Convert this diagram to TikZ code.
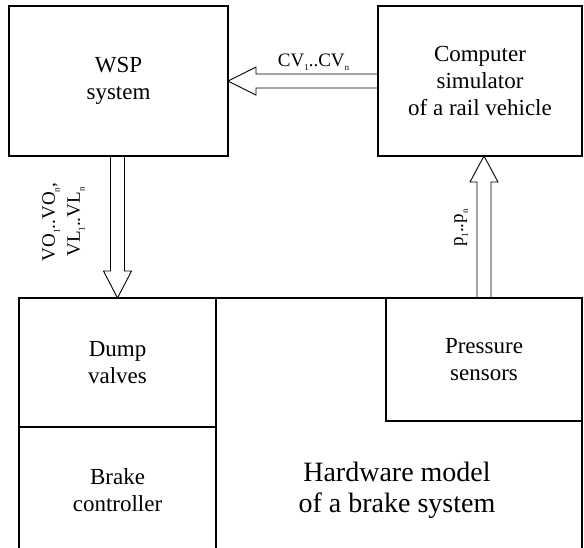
\documentclass[tikz,border=0pt]{standalone}
\usepackage{fontspec}
\setmainfont{Liberation Serif}
\usetikzlibrary{positioning, calc}
\newcommand{\lowsub}[1]{\raisebox{-0.55ex}{\fontsize{9}{9}\selectfont #1}}

\begin{document}
\begin{tikzpicture}[
    x=1pt, y=-1pt,
    font=\fontsize{23}{27}\selectfont,
    block/.style={rectangle, draw, line width=1.6pt, align=center, inner sep=0pt, outer sep=0pt},
    sig/.style={font=\fontsize{19}{25}\selectfont, align=center, inner sep=1pt},
    hollow/.style={draw, line width=0.9pt, line join=miter}
]
\useasboundingbox (0,0) rectangle (584,547);
\clip (0,0) rectangle (584,547);

% Upper blocks
\node[block, minimum width=219pt, minimum height=150pt] (wsp) at (118.5,81) {WSP\\system};
\node[block, minimum width=204pt, minimum height=150pt, right=150pt of wsp] (sim) {Computer\\simulator\\of a rail vehicle};

% Hardware model (lower edge runs off the page)
\node[block, minimum width=563pt, minimum height=255pt, anchor=north west] (hw) at (19,298) {};
\node[block, minimum width=197pt, minimum height=129pt, anchor=north west] (dump) at (hw.north west) {Dump\\valves};
\node[block, minimum width=197pt, minimum height=126pt, below=0pt of dump] (brake) {Brake\\controller};
\node[block, minimum width=196pt, minimum height=123pt, anchor=north east] (press) at (hw.north east) {Pressure\\sensors};
\node[font=\fontsize{28}{31}\selectfont, align=center] (hwtext) at (397,490) {Hardware model\\of a brake system};

% Hollow arrows
\draw[hollow] ($(sim.west)+(0,-7)$) -- ($(wsp.east)+(28,-7)$) -- ($(wsp.east)+(28,-14)$) -- (wsp.east)
    -- ($(wsp.east)+(28,14)$) -- ($(wsp.east)+(28,7)$) -- ($(sim.west)+(0,7)$);
\draw[hollow] ($(wsp.south -| dump.north)+(-7,0)$) -- ($(dump.north)+(-7,-27)$) -- ($(dump.north)+(-14,-27)$) -- (dump.north)
    -- ($(dump.north)+(14,-27)$) -- ($(dump.north)+(7,-27)$) -- ($(wsp.south -| dump.north)+(7,0)$);
\draw[hollow] ($(press.north)+(-7,0)$) -- ($(sim.south -| press.north)+(-7,26)$) -- ($(sim.south -| press.north)+(-14,26)$) -- (sim.south -| press.north)
    -- ($(sim.south -| press.north)+(14,26)$) -- ($(sim.south -| press.north)+(7,26)$) -- ($(press.north)+(7,0)$);

% Signal labels
\node[sig, anchor=south] (cvlabel) at ($(wsp.east)!0.57!(sim.west)+(0,-9)$) {CV\lowsub{1}..CV\lowsub{n}};
\node[sig, rotate=90] (vlabel) at ($(wsp.south)+(-55,66)$) {VO\lowsub{1}..VO\lowsub{n},\\VL\lowsub{1}..VL\lowsub{n}};
\node[sig, rotate=90] (plabel) at ($(press.north)+(-23,-70)$) {p\lowsub{1}..p\lowsub{n}};

\end{tikzpicture}
\end{document}
